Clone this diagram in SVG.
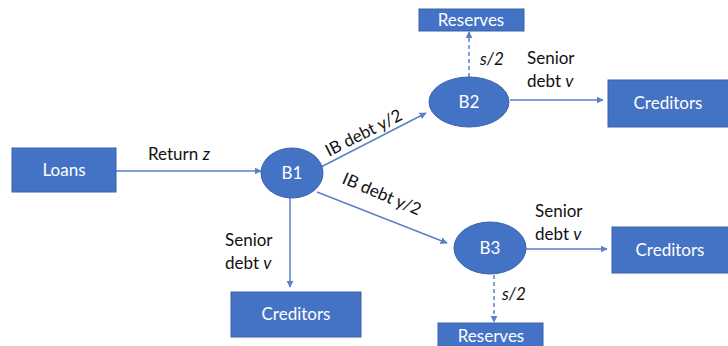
<svg xmlns="http://www.w3.org/2000/svg" width="728" height="346" viewBox="0 0 728 346">
<style>
.box{fill:#4472C4;stroke:#3A62AB;stroke-width:1}
.nt{fill:#fff;font-family:Lato,"Open Sans","Liberation Sans",sans-serif;font-size:17px;text-anchor:middle}
.lbl{fill:#111;font-family:Lato,"Open Sans","Liberation Sans",sans-serif;font-size:17px}
.ed{stroke:#5B80C8;stroke-width:1.5;fill:none}
.dash{stroke-dasharray:4 3}
</style>
<defs>
<marker id="ah" viewBox="0 0 10 10" refX="9" refY="5" markerWidth="7" markerHeight="7" orient="auto" markerUnits="userSpaceOnUse">
<path d="M0,0 L10,5 L0,10 z" fill="#5B80C8"/>
</marker>
</defs>
<rect width="728" height="346" fill="#fff"/>
<g id="connectors">
<line class="ed" x1="116" y1="171" x2="261" y2="171" marker-end="url(#ah)"/>
<line class="ed" x1="321" y1="167" x2="426" y2="113" marker-end="url(#ah)"/>
<line class="ed" x1="317" y1="192" x2="447" y2="243" marker-end="url(#ah)"/>
<line class="ed" x1="290" y1="197" x2="290" y2="287" marker-end="url(#ah)"/>
<line class="ed" x1="510" y1="100" x2="603" y2="100" marker-end="url(#ah)"/>
<line class="ed" x1="526" y1="249" x2="607" y2="249" marker-end="url(#ah)"/>
<line class="ed dash" x1="469" y1="77" x2="469" y2="32" marker-end="url(#ah)"/>
<line class="ed dash" x1="494" y1="275" x2="494" y2="322" marker-end="url(#ah)"/>
<text class="lbl" x="148" y="160">Return <tspan font-style="italic">z</tspan></text>
<text class="lbl" transform="translate(329,157) rotate(-27)">IB debt y/2</text>
<text class="lbl" transform="translate(341,183) rotate(23)">IB debt y/2</text>
<text class="lbl" x="225" y="246">Senior</text>
<text class="lbl" x="225" y="269">debt <tspan font-style="italic">v</tspan></text>
<text class="lbl" x="527" y="64">Senior</text>
<text class="lbl" x="527" y="87">debt <tspan font-style="italic">v</tspan></text>
<text class="lbl" x="535" y="217">Senior</text>
<text class="lbl" x="535" y="240">debt <tspan font-style="italic">v</tspan></text>
<text class="lbl" x="480" y="65" font-style="italic">s/2</text>
<text class="lbl" x="502" y="300" font-style="italic">s/2</text>
</g>
<g id="loans"><rect class="box" x="12" y="148" width="104" height="44"/><text class="nt" x="64" y="176">Loans</text></g>
<g id="b1"><ellipse class="box" cx="292" cy="173" rx="31" ry="25"/><text class="nt" x="292" y="179">B1</text></g>
<g id="b2"><ellipse class="box" cx="469" cy="102" rx="40" ry="25"/><text class="nt" x="469" y="108">B2</text></g>
<g id="b3"><ellipse class="box" cx="490" cy="248" rx="36" ry="26"/><text class="nt" x="490" y="254">B3</text></g>
<g id="reserves-top"><rect class="box" x="419" y="9" width="105" height="22"/><text class="nt" x="471" y="26">Reserves</text></g>
<g id="reserves-bottom"><rect class="box" x="438" y="323" width="105" height="30"/><text class="nt" x="491" y="342" font-size="18">Reserves</text></g>
<g id="creditors-top"><rect class="box" x="608" y="80" width="122" height="47"/><text class="nt" x="668" y="109">Creditors</text></g>
<g id="creditors-right"><rect class="box" x="612" y="227" width="118" height="46"/><text class="nt" x="670" y="256">Creditors</text></g>
<g id="creditors-bottom"><rect class="box" x="231" y="292" width="130" height="45"/><text class="nt" x="296" y="320">Creditors</text></g>
</svg>
